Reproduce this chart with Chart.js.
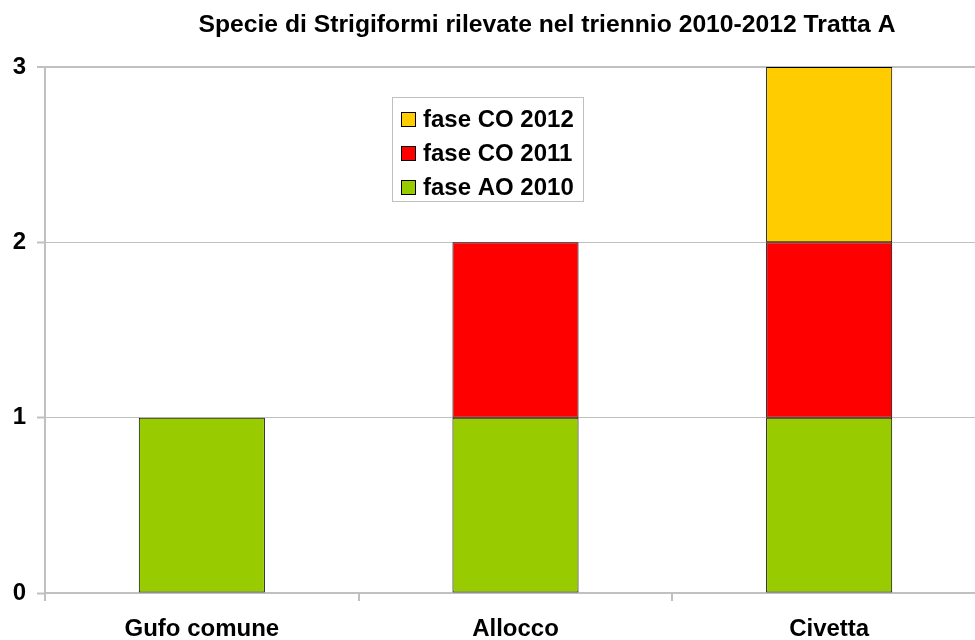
<!DOCTYPE html>
<html>
<head>
<meta charset="utf-8">
<script src="https://cdn.jsdelivr.net/npm/chart.js@4/dist/chart.umd.min.js"></script>
<style>
  html, body { margin: 0; padding: 0; background: #ffffff; overflow: hidden; }
  #wrap { width: 975px; height: 640px; overflow: hidden; }
  #c { display: block; }
</style>
</head>
<body>
<div id="wrap"><canvas id="c" width="986" height="640"></canvas></div>
<script>
// Species and per-phase counts
const categories = ['Gufo comune', 'Allocco', 'Civetta'];
const faseAO2010 = [1, 1, 1];
const faseCO2011 = [0, 1, 1];
const faseCO2012 = [0, 0, 1];
const seriesNames = ['fase AO 2010', 'fase CO 2011', 'fase CO 2012'];
const seriesColors = ['#99cc00', '#ff0000', '#ffcc00'];
const yTicks = [0, 1, 2, 3];
const chartTitle = 'Specie di Strigiformi rilevate nel triennio 2010-2012 Tratta A';

const FONT = '"Liberation Sans", Arial, sans-serif';

// Title drawn centred above the plot
const titlePlugin = {
  id: 'plotTitle',
  afterDraw(chart, args, opts) {
    const ctx = chart.ctx;
    ctx.save();
    ctx.font = 'bold ' + opts.size + 'px ' + FONT;
    ctx.fillStyle = '#000';
    ctx.textAlign = 'center';
    ctx.textBaseline = 'middle';
    ctx.fillText(opts.text, opts.x, opts.y);
    ctx.restore();
  }
};

// Boxed legend inside the plot area, top series first
const boxLegend = {
  id: 'boxLegend',
  afterDraw(chart, args, opts) {
    const ctx = chart.ctx;
    const a = chart.chartArea;
    const x0 = a.left + opts.dx, y0 = a.top + opts.dy;
    ctx.save();
    ctx.strokeStyle = '#c0c0c0';
    ctx.lineWidth = 1;
    ctx.fillStyle = '#fff';
    ctx.fillRect(x0, y0, opts.w, opts.h);
    ctx.strokeRect(x0 + 0.5, y0 + 0.5, opts.w, opts.h);
    ctx.font = 'bold ' + opts.size + 'px ' + FONT;
    ctx.textBaseline = 'middle';
    ctx.textAlign = 'left';
    const ds = chart.data.datasets.slice().reverse();
    ds.forEach((d, i) => {
      const cy = y0 + opts.first + i * opts.step;
      ctx.fillStyle = d.backgroundColor;
      ctx.fillRect(x0 + 9, cy - 7, 15, 15);
      ctx.strokeStyle = '#000';
      ctx.strokeRect(x0 + 9.5, cy - 6.5, 14, 14);
      ctx.fillStyle = '#000';
      ctx.fillText(d.label, x0 + 31, cy + 1);
    });
    ctx.restore();
  }
};

const values = [faseAO2010, faseCO2011, faseCO2012];

new Chart(document.getElementById('c'), {
  type: 'bar',
  data: {
    labels: categories,
    datasets: seriesNames.map((name, i) => ({
      label: name,
      data: values[i],
      backgroundColor: seriesColors[i],
      borderColor: '#000000',
      borderWidth: 1,
      borderSkipped: false,
      categoryPercentage: 1.0,
      barPercentage: 0.402
    }))
  },
  options: {
    responsive: false,
    animation: false,
    devicePixelRatio: 1,
    layout: { padding: { top: 67, right: 0, left: 0, bottom: 0 } },
    plugins: {
      legend: { display: false },
      title: { display: false },
      tooltip: { enabled: false },
      plotTitle: { text: chartTitle, x: 547, y: 25, size: 24.7 },
      boxLegend: { dx: 347, dy: 30, w: 191, h: 104, first: 22, step: 34, size: 24 }
    },
    scales: {
      x: {
        stacked: true,
        afterFit(s) { s.height = 47; },
        grid: {
          drawOnChartArea: false,
          drawTicks: true,
          tickLength: 8,
          color: '#c0c0c0',
          lineWidth: 2
        },
        border: { color: '#c0c0c0', width: 2 },
        ticks: {
          color: '#000',
          padding: 14,
          font: { family: FONT, size: 24, weight: 'bold' }
        }
      },
      y: {
        stacked: true,
        min: 0,
        max: 3,
        afterFit(s) { s.width = 45; },
        afterBuildTicks(s) { s.ticks = yTicks.map(v => ({ value: v })); },
        grid: {
          color: '#c0c0c0',
          lineWidth: ctx => (ctx.tick && ctx.tick.value === 3 ? 2 : 1),
          tickLength: 8,
          tickWidth: 2,
          tickColor: '#c0c0c0'
        },
        border: { color: '#c0c0c0', width: 2 },
        ticks: {
          color: '#000',
          padding: 11,
          font: { family: FONT, size: 24, weight: 'bold' }
        }
      }
    }
  },
  plugins: [titlePlugin, boxLegend]
});
</script>
</body>
</html>
